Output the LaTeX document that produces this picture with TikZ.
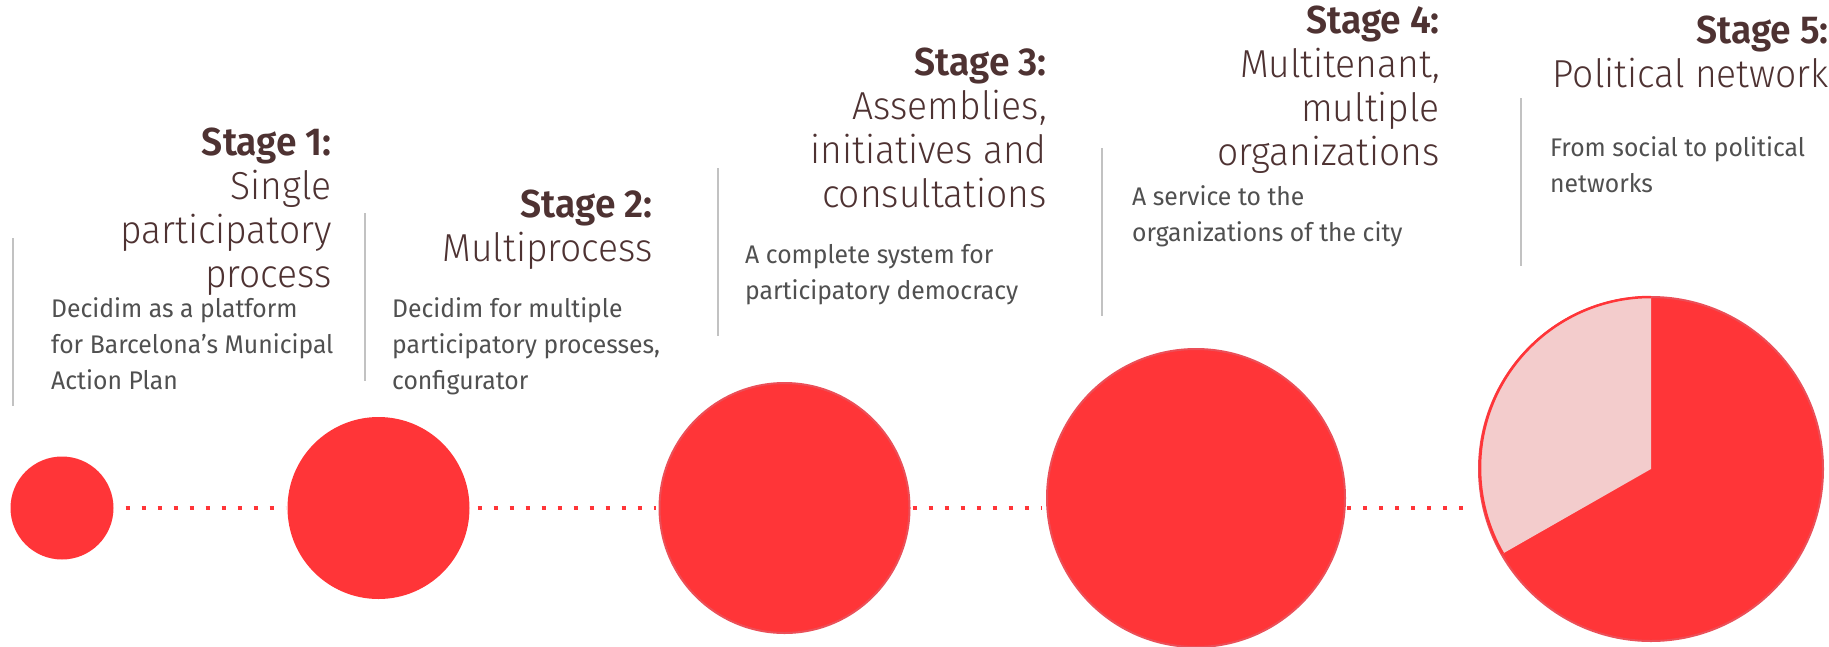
\documentclass[tikz,border=0pt]{standalone}
\usepackage{fontspec}
\setmainfont{Fira Sans}[UprightFont=* Light, BoldFont=* SemiBold, FakeStretch=0.955]
\newfontfamily\descfont{Fira Sans}[FakeStretch=0.97]
\definecolor{stagered}{HTML}{FF3538}
\definecolor{stagering}{HTML}{EB4F58}
\definecolor{stagepink}{HTML}{F3CCCC}
\definecolor{titlebrown}{HTML}{4E3232}
\definecolor{descgray}{HTML}{505050}
\definecolor{bargray}{HTML}{C2C2C2}

\begin{document}
\begin{tikzpicture}[x=1pt, y=-1pt,
    title/.style={anchor=base east, align=right, inner sep=0, text=titlebrown, font=\fontsize{39}{44}\selectfont},
    desc/.style={anchor=base west, align=left, inner sep=0, text=descgray, font=\descfont\fontsize{25.5}{36}\selectfont},
    stage/.style={circle, fill=stagered, inner sep=0, outer sep=0, minimum size=#1},
    bar/.style={draw=bargray, line width=2pt},
    dots/.style={draw=stagered, line width=4pt, dash pattern=on 4pt off 12pt}]
    \useasboundingbox (0,0) rectangle (1829,646);

    \node [stage=103pt] (c1) at (62,508) {};
    \node [stage=182pt] (c2) at (378.5,508) {};
    \node [stage=250pt, draw=stagering, line width=2pt] (c3) at (784.5,508) {};
    \node [stage=298pt, draw=stagering, line width=2pt] (c4) at (1196,498) {};
    \node [stage=344pt, draw=stagering, line width=2pt] (c5) at (1651,469) {};
    \fill [stagepink] (c5.center) -- (c5.90) arc [start angle=90, end angle=210, radius=171pt] -- cycle;
    \draw [stagered, line width=2.5pt] (c5.90) arc [start angle=90, end angle=210, radius=171pt];

    \draw [dots, shorten <=12pt, shorten >=2pt] (c1.east) -- (c2.west);
    \draw [dots, shorten <=8pt, shorten >=4pt] (c2.east) -- (c3.west);
    \draw [dots, shorten <=3pt, shorten >=6pt] (c3.east) -- (c3.east -| c4.west);
    \draw [dots, shorten <=2pt, shorten >=7pt] (c3.east -| c4.east) -- (c3.east -| c5.west);

    \draw [bar] (13,238) -- (13,406);
    \draw [bar] (365,213) -- (365,381);
    \draw [bar] (718,168) -- (718,336);
    \draw [bar] (1102,148) -- (1102,316);
    \draw [bar] (1521,98) -- (1521,266);

    \node [title] (t1) at (332,287) {\textbf{Stage 1:}\\Single\\participatory\\process};
    \node [title] (t2) at (653,261) {\textbf{Stage 2:}\\Multiprocess};
    \node [title] (t3) at (1047,207) {\textbf{Stage 3:}\\Assemblies,\\initiatives and\\consultations};
    \node [title] (t4) at (1440,165) {\textbf{Stage 4:}\\Multitenant,\\multiple\\organizations};
    \node [title] (t5) at (1829,87) {\textbf{Stage 5:}\\Political network};

    \node [desc] (d1) at (51,389) {Decidim as a platform\\for Barcelona’s Municipal\\Action Plan};
    \node [desc] (d2) at (392,389) {Decidim for multiple\\participatory processes,\\configurator};
    \node [desc] (d3) at (745,299) {A complete system for\\participatory democracy};
    \node [desc] (d4) at (1132,241) {A service to the\\organizations of the city};
    \node [desc] (d5) at (1550,192) {From social to political\\networks};
\end{tikzpicture}
\end{document}
